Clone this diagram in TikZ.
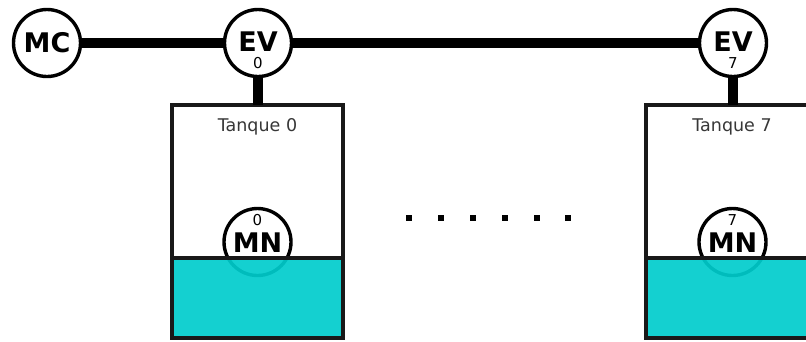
\documentclass[tikz,border=0pt]{standalone}
\usepackage{fontspec}
\setmainfont{DejaVu Sans}
\definecolor{water}{RGB}{0,205,205}
\definecolor{tankline}{RGB}{25,25,25}
\definecolor{labelgray}{RGB}{55,55,55}
\begin{document}
\begin{tikzpicture}[x=1pt,y=-1pt,
  dev/.style={circle,draw=black,line width=3.4pt,fill=white,minimum size=67pt,inner sep=0pt},
  pipe/.style={line width=10.5pt,draw=black},
  tankbox/.style={draw=tankline,line width=3.2pt,fill=white},
  waterbox/.style={draw=tankline,line width=3.2pt,fill=water,fill opacity=0.92},
  big/.style={font=\fontsize{27}{27}\selectfont\bfseries,inner sep=0pt},
  idx/.style={font=\fontsize{15}{15}\selectfont,inner sep=0pt},
  tlabel/.style={font=\fontsize{17.5}{17.5}\selectfont,text=labelgray,inner sep=0pt},
  dot/.style={fill=black,minimum size=6.5pt,inner sep=0pt,rectangle}]
\useasboundingbox (0,0) rectangle (806,341);
\clip (0,0) rectangle (806,341);
% tanks
\path[tankbox] (172,105) rectangle (343,338);
\path[tankbox] (646,105) rectangle (818,338);
\node[tlabel] (t0) at (257.5,127) {Tanque 0};
\node[tlabel] (t7) at (732,127) {Tanque 7};
% level sensors
\node[dev] (mn0) at (257.5,242) {};
\node[dev] (mn7) at (732.5,242) {};
\node[idx] (mn0i) at (257.5,220) {0};
\node[big] (mn0t) at (257.5,243) {MN};
\node[idx] (mn7i) at (732.5,220) {7};
\node[big] (mn7t) at (732.5,243) {MN};
% water
\path[waterbox] (172,258) rectangle (343,338);
\path[waterbox] (646,258) rectangle (818,338);
% valves and motor
\node[dev] (mc) at (47,43) {};
\node[big] (mct) at (47,43) {MC};
\node[dev] (ev0) at (258,43) {};
\node[big] (ev0t) at (258,41.5) {EV};
\node[idx] (ev0i) at (258,63.5) {0};
\node[dev] (ev7) at (733,43) {};
\node[big] (ev7t) at (733,41.5) {EV};
\node[idx] (ev7i) at (733,63.5) {7};
\coordinate (tk0) at (258,105);
\coordinate (tk7) at (733,105);
\draw[pipe] (mc) -- (ev0);
\draw[pipe] (ev0) -- (ev7);
\draw[pipe] (ev0) -- (tk0);
\draw[pipe] (ev7) -- (tk7);
% dots
\foreach \i/\x in {1/409,2/441,3/473,4/505,5/537,6/568}
  \node[dot] (d\i) at (\x,218) {};
\end{tikzpicture}
\end{document}
